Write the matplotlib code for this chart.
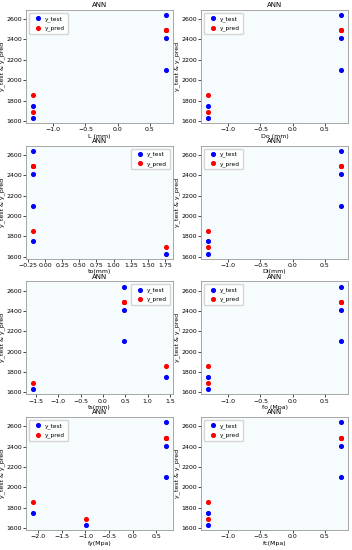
import matplotlib
matplotlib.use('Agg')
import matplotlib.pyplot as plt
from matplotlib.ticker import MultipleLocator

# targets and predictions (same for every panel)
y_test = [2640, 2410, 2100, 1750, 1630]
y_pred = [2490, 2490, 2490, 1855, 1690]

# scaled input features, one per panel
features = {
    'L (mm)':  [0.76, 0.76, 0.76, -1.32, -1.32],
    'Do (mm)': [0.76, 0.76, 0.76, -1.32, -1.32],
    'to(mm)':  [-0.18, -0.18, -0.18, -0.18, 1.77],
    'Di(mm)':  [0.76, 0.76, 0.76, -1.32, -1.32],
    'ts(mm)':  [0.48, 0.48, 0.48, 1.42, -1.57],
    'fo (Mpa)': [0.76, 0.76, 0.76, -1.32, -1.32],
    'fy(Mpa)': [0.72, 0.72, 0.72, -2.12, -0.98],
    'fc(Mpa)': [0.76, 0.76, 0.76, -1.32, -1.32],
}
legend_loc = ['upper left', 'upper left', 'upper right', 'upper left',
              'upper right', 'upper left', 'upper left', 'upper left']

fig, axs = plt.subplots(4, 2, figsize=(3.52, 5.5), dpi=100)
fig.subplots_adjust(left=0.074, right=0.989, top=0.982, bottom=0.036,
                    wspace=0.19, hspace=0.2)

for i, (name, x) in enumerate(features.items()):
    ax = axs.flat[i]
    ax.set_facecolor('#f6fbfd')
    ax.scatter(x, y_test, s=7, color='blue', label='y_test', zorder=3)
    ax.scatter(x, y_pred, s=7, color='red', label='y_pred', zorder=3)
    ax.set_title('ANN', fontsize=5, pad=2)
    ax.set_xlabel(name, fontsize=4.5, labelpad=1)
    ax.set_ylabel('y_test & y_pred', fontsize=4.5, labelpad=1)
    ax.tick_params(labelsize=4.5, length=2, width=0.5, pad=1)
    for sp in ax.spines.values():
        sp.set_color('#999999')
        sp.set_linewidth(0.6)
    ax.set_yticks([1600, 1800, 2000, 2200, 2400, 2600])
    if name == 'to(mm)':
        ax.xaxis.set_major_locator(MultipleLocator(0.25))
    ax.legend(loc=legend_loc[i], fontsize=4.2,
              handletextpad=0.3, borderpad=0.5, labelspacing=0.6,
              edgecolor='#cccccc')

fig.savefig('out.png', dpi=100)
plt.close(fig)
